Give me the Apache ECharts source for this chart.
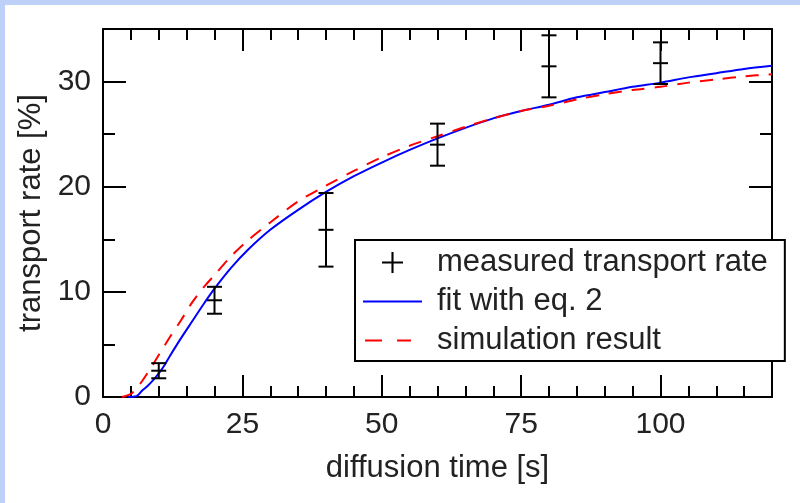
<!DOCTYPE html>
<html>
<head>
<meta charset="utf-8">
<script src="https://cdn.jsdelivr.net/npm/echarts@6/dist/echarts.min.js"></script>
<style>
html,body{margin:0;padding:0;width:800px;height:503px;background:#bed0f8;overflow:hidden;}
#chart{position:absolute;left:5px;top:5px;width:795px;height:498px;background:#fff;}
</style>
</head>
<body>
<div id="chart"></div>
<script>
// ---- data ----
var xTicksMajor = [0, 25, 50, 75, 100];
var yTicksMajor = [0, 10, 20, 30];

var measX = [10, 20, 40, 60, 80, 100];
var measY = [2.5, 9.2, 15.9, 24.0, 31.45, 31.75];
var measErr = [0.72, 1.28, 3.5, 2.0, 2.95, 1.98];

var fitX = [4.5, 6, 7, 8, 9, 10, 11, 12, 14, 16, 18, 20, 23, 26, 30, 35, 40, 45, 50, 55, 60, 65, 70, 75, 80, 85, 90, 95, 100, 105, 110, 115, 120];
var fitY = [0, 0.08, 0.6, 1.05, 1.6, 2.25, 3.0, 3.9, 5.6, 7.2, 8.8, 10.3, 12.3, 14.0, 15.9, 17.8, 19.5, 21.0, 22.3, 23.5, 24.6, 25.6, 26.5, 27.2, 27.8, 28.5, 29.0, 29.5, 29.9, 30.4, 30.8, 31.2, 31.5];

var simX = [3.4, 5, 6, 7, 8, 9, 10, 12, 14, 16, 18, 20, 23, 26, 30, 35, 40, 45, 50, 55, 60, 65, 70, 75, 80, 85, 90, 95, 100, 105, 110, 115, 120];
var simY = [0, 0.3, 0.8, 1.5, 2.3, 3.1, 4.0, 5.7, 7.3, 9.0, 10.4, 11.6, 13.4, 14.9, 16.6, 18.6, 20.1, 21.5, 22.8, 23.9, 24.8, 25.7, 26.5, 27.2, 27.7, 28.3, 28.8, 29.2, 29.5, 29.9, 30.2, 30.5, 30.7];

var seriesNames = ['measured transport rate', 'fit with eq. 2', 'simulation result'];
var xName = 'diffusion time [s]';
var yName = 'transport rate [%]';

// ---- build ----
var FONT = "'Liberation Sans', Arial, Helvetica, sans-serif";
var TXT = '#222';
var measData = measX.map(function (x, i) { return [x, measY[i], measY[i] - measErr[i], measY[i] + measErr[i]]; });
var fitData = fitX.map(function (x, i) { return [x, fitY[i]]; });
var simData = simX.map(function (x, i) { return [x, simY[i]]; });

function tickAxis(pos, interval, len, showLine, extra) {
  var a = {
    type: 'value', position: pos, min: 0, interval: interval,
    axisLine: { show: showLine, onZero: false, lineStyle: { color: '#000', width: 2 } },
    axisTick: { show: true, inside: true, length: len, lineStyle: { color: '#000', width: 2 } },
    axisLabel: { show: false },
    splitLine: { show: false }
  };
  for (var k in extra) a[k] = extra[k];
  return a;
}

var ICON_PLUS = 'path://M9,0h2v20h-2zM0,9h20v2h-20z';
var ICON_SOLID = 'path://M0,0h59v2h-59z';
var ICON_DASH = 'path://M0,0h0.01v0.01h-0.01zM58.99,0h0.01v0.01h-0.01zM2,0h17v2h-17zM34,0h14v2h-14z';

var chart = echarts.init(document.getElementById('chart'), null, { renderer: 'canvas' });
var option = {
  animation: false,
  backgroundColor: '#fff',
  grid: { left: 98, top: 24, right: 28, bottom: 106 },
  xAxis: [
    tickAxis('bottom', 25, 22, true, {
      max: 120,
      name: xName, nameLocation: 'middle', nameGap: 56,
      nameTextStyle: { fontSize: 31, color: TXT, fontFamily: FONT },
      axisLabel: { show: true, fontSize: 30, color: TXT, fontFamily: FONT, margin: 13, showMaxLabel: false }
    }),
    tickAxis('bottom', 5, 11, false, { max: 120 }),
    tickAxis('top', 25, 22, true, { max: 120 }),
    tickAxis('top', 5, 11, false, { max: 120 })
  ],
  yAxis: [
    tickAxis('left', 10, 23, true, {
      max: 35,
      name: yName, nameLocation: 'middle', nameGap: 47,
      nameTextStyle: { fontSize: 31, color: TXT, fontFamily: FONT },
      axisLabel: { show: true, fontSize: 30, color: TXT, fontFamily: FONT, margin: 12, showMaxLabel: false }
    }),
    tickAxis('left', 5, 12, false, { max: 35 }),
    tickAxis('right', 10, 23, true, { max: 35 }),
    tickAxis('right', 5, 12, false, { max: 35 })
  ],
  legend: {
    orient: 'vertical', left: 350, top: 235,
    backgroundColor: '#fff', borderColor: '#000', borderWidth: 2, borderRadius: 0,
    padding: [4, 17, 2, 8],
    itemWidth: 59, itemHeight: 21, itemGap: 2,
    selectedMode: false,
    textStyle: { fontSize: 31, color: TXT, fontFamily: FONT, lineHeight: 37, padding: [0, 0, 0, 10] },
    data: [
      { name: seriesNames[0], icon: ICON_PLUS, itemStyle: { color: '#000' } },
      { name: seriesNames[1], icon: ICON_SOLID, itemStyle: { color: '#0000ff' } },
      { name: seriesNames[2], icon: ICON_DASH, itemStyle: { color: '#ff0000' } }
    ]
  },
  series: [
    {
      name: seriesNames[1], type: 'line', data: fitData, smooth: 0.3, symbol: 'none',
      lineStyle: { color: '#0000ff', width: 2 }, itemStyle: { color: '#0000ff' }, z: 3
    },
    {
      name: seriesNames[2], type: 'line', data: simData, smooth: 0.3, symbol: 'none',
      lineStyle: { color: '#ff0000', width: 2, type: [13, 10] }, itemStyle: { color: '#ff0000' }, z: 3
    },
    {
      name: seriesNames[0], type: 'custom', data: measData,
      encode: { x: 0, y: [1, 2, 3] },
      itemStyle: { color: '#000' }, z: 4,
      renderItem: function (params, api) {
        var x = api.value(0);
        var pc = api.coord([x, api.value(1)]);
        var pl = api.coord([x, api.value(2)]);
        var ph = api.coord([x, api.value(3)]);
        var hw = 7.5;
        var st = { stroke: '#000', lineWidth: 2 };
        return {
          type: 'group',
          children: [
            { type: 'line', shape: { x1: pl[0], y1: pl[1], x2: ph[0], y2: ph[1] }, style: st },
            { type: 'line', shape: { x1: pl[0] - hw, y1: pl[1], x2: pl[0] + hw, y2: pl[1] }, style: st },
            { type: 'line', shape: { x1: ph[0] - hw, y1: ph[1], x2: ph[0] + hw, y2: ph[1] }, style: st },
            { type: 'line', shape: { x1: pc[0] - hw, y1: pc[1], x2: pc[0] + hw, y2: pc[1] }, style: st }
          ]
        };
      }
    }
  ]
};
chart.setOption(option);
</script>
</body>
</html>
